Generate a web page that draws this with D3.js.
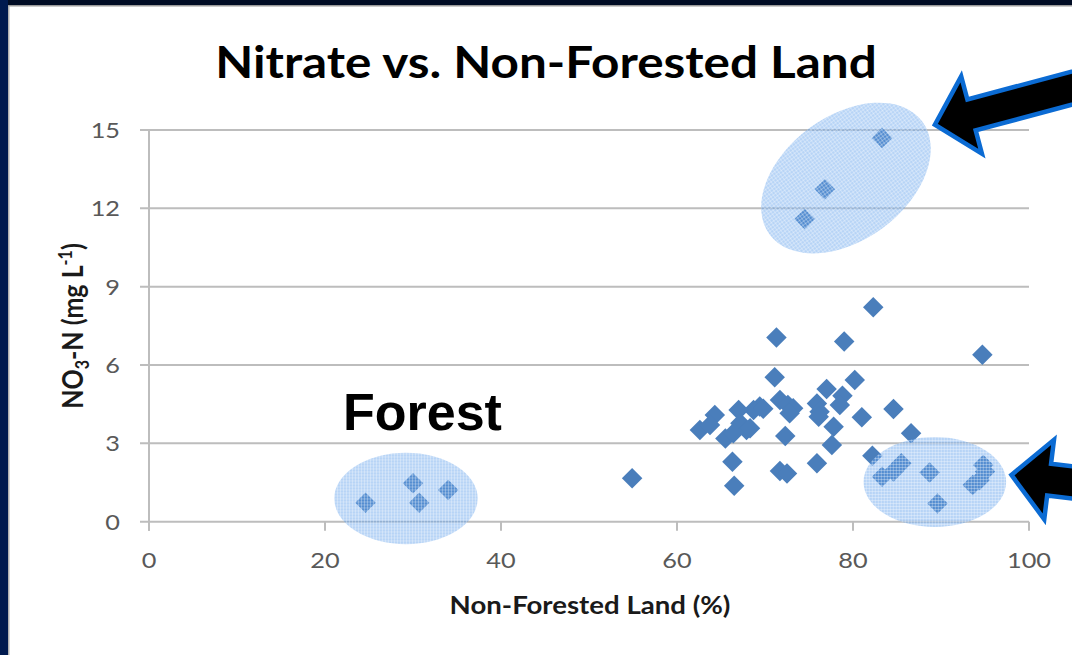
<!DOCTYPE html>
<html><head><meta charset="utf-8">
<script src="https://cdn.jsdelivr.net/npm/d3@7"></script>
<style>html,body{margin:0;padding:0;background:#fff;overflow:hidden} svg{display:block}</style>
</head><body><svg id="c" width="1072" height="655"></svg>
<script>
// ---------- data ----------
const chartTitle = "Nitrate vs. Non-Forested Land";
const xAxisTitle = "Non-Forested Land (%)";
const xTicks = [0, 20, 40, 60, 80, 100];
const yTicks = [0, 3, 6, 9, 12, 15];
const nonForested = [24.6, 30.0, 30.7, 34.0, 54.9, 83.3, 76.8, 74.5, 82.3, 71.3,
  79.0, 94.7, 71.1, 80.2, 77.0, 78.8, 71.7, 72.6, 73.2, 72.8,
  69.4, 68.7, 67.0, 64.3, 62.6, 63.75, 65.5, 67.2, 67.9, 66.4,
  75.9, 76.2, 76.1, 77.8, 78.5, 81.0, 84.6, 72.3, 77.6, 86.6,
  66.3, 66.5, 71.7, 72.5, 75.9, 82.2, 83.3, 84.6, 85.5, 88.7,
  89.6, 93.6, 94.4, 94.8, 95.0, 68.3, 69.8];
const nitrate = [0.73, 1.47, 0.73, 1.21, 1.66, 14.69, 12.73, 11.59, 8.21, 7.05,
  6.90, 6.39, 5.53, 5.43, 5.08, 4.82, 4.66, 4.47, 4.34, 4.15,
  4.41, 4.28, 4.28, 4.09, 3.51, 3.70, 3.19, 3.77, 3.51, 3.39,
  4.53, 4.21, 4.02, 3.64, 4.47, 4.00, 4.32, 3.28, 2.94, 3.39,
  2.30, 1.38, 1.94, 1.85, 2.24, 2.53, 1.72, 1.92, 2.24, 1.88,
  0.70, 1.41, 1.60, 2.17, 1.92, 3.58, 4.33];
// highlight ellipses (centre in data units)
const ellipseCx = [29.2, 79.2, 89.3];
const ellipseCy = [0.89, 13.16, 1.52];
const forestLabel = "Forest";

// ---------- layout ----------
const W = 1072, H = 655;
const SX = 1.15; // horizontal stretch of the original slide picture
const svg = d3.select("#c");
const x = d3.scaleLinear().domain([0, 100]).range([149, 1029]);
const y = d3.scaleLinear().domain([0, 15]).range([521.7, 130]);

// frame
svg.append("rect").attr("x", 0).attr("y", 0).attr("width", W).attr("height", H).attr("fill", "#fff");
svg.append("rect").attr("x", 0).attr("y", 0).attr("width", W).attr("height", 5).attr("fill", "#000c24");
svg.append("rect").attr("x", 0).attr("y", 5).attr("width", W).attr("height", 1.5).attr("fill", "#9a9a9a");
svg.append("rect").attr("x", 0).attr("y", 0).attr("width", 8).attr("height", H).attr("fill", "#001a4f");
svg.append("rect").attr("x", 8).attr("y", 6).attr("width", 1.5).attr("height", H).attr("fill", "#b0b0b0");

// pattern for highlight ellipses
const defs = svg.append("defs");
const pat = defs.append("pattern").attr("id", "hatch").attr("patternUnits", "userSpaceOnUse")
  .attr("width", 3).attr("height", 3);
pat.append("rect").attr("width", 3).attr("height", 3).attr("fill", "rgba(95,160,235,0.45)");
pat.append("rect").attr("width", 3).attr("height", 1).attr("fill", "rgba(255,255,255,0.3)");
pat.append("rect").attr("width", 1).attr("height", 3).attr("fill", "rgba(255,255,255,0.3)");

// gridlines
const g = svg.append("g");
g.selectAll("line.grid").data(yTicks).join("line")
  .attr("x1", 140).attr("x2", x(100))
  .attr("y1", d => y(d)).attr("y2", d => y(d))
  .attr("stroke", "#bdbdbd").attr("stroke-width", 2);
g.append("line").attr("x1", x(0)).attr("x2", x(0)).attr("y1", y(15)).attr("y2", y(0) + 9)
  .attr("stroke", "#bdbdbd").attr("stroke-width", 2);
g.selectAll("line.xt").data(xTicks).join("line")
  .attr("x1", d => x(d)).attr("x2", d => x(d)).attr("y1", y(0)).attr("y2", y(0) + 9)
  .attr("stroke", "#bdbdbd").attr("stroke-width", 2);

// tick labels
g.selectAll("text.yl").data(yTicks).join("text")
  .attr("transform", d => `translate(120,${y(d)}) scale(${SX},1)`).attr("dy", "0.36em")
  .attr("text-anchor", "end").attr("font-family", "Lato, sans-serif")
  .attr("font-size", 22).attr("fill", "#595959").text(d => d);
g.selectAll("text.xl").data(xTicks).join("text")
  .attr("transform", d => `translate(${x(d)},568) scale(${SX},1)`)
  .attr("text-anchor", "middle").attr("font-family", "Lato, sans-serif")
  .attr("font-size", 22).attr("fill", "#595959").text(d => d);

// points (square rotated = Excel diamond)
const sym = d3.symbol().type(d3.symbolSquare).size(210);
svg.append("g").selectAll("path").data(nonForested.map((v, i) => [v, nitrate[i]])).join("path")
  .attr("d", sym)
  .attr("transform", d => `translate(${x(d[0])},${y(d[1])}) rotate(45)`)
  .attr("fill", "#4a7ebb");

// ellipses
const ellG = svg.append("g");
const ellRx = [x(8.15) - x(0), 95, x(8.1) - x(0)];
const ellRy = [y(0) - y(1.75), 62, y(0) - y(1.72)];
const ellRot = [0, -36.5, 0];
ellipseCx.forEach((cx, i) => {
  ellG.append("ellipse")
    .attr("transform", `translate(${x(cx)},${y(ellipseCy[i])}) rotate(${ellRot[i]})`)
    .attr("rx", ellRx[i]).attr("ry", ellRy[i])
    .attr("fill", "url(#hatch)");
});

// arrows (tip in data units)
const arrowTipX = [89.3, 98.0];
const arrowTipY = [15.2, 1.79];
const arrowAngle = [-15, 7];
function arrowPath() {
  const hl = 38, hw = 40, sw = 16, len = 400;
  return `M0,0 L${hl},${-hw} L${hl},${-sw} L${len},${-sw} L${len},${sw} L${hl},${sw} L${hl},${hw} Z`;
}
arrowTipX.forEach((ax, i) => {
  svg.append("path")
    .attr("d", arrowPath())
    .attr("transform", `translate(${x(ax)},${y(arrowTipY[i])}) rotate(${arrowAngle[i]})`)
    .attr("fill", "#000").attr("stroke", "#0b6bd3").attr("stroke-width", 4.5)
    .attr("stroke-linejoin", "miter");
});

// titles
svg.append("text").attr("transform", `translate(546,78) scale(${SX},1)`).attr("text-anchor", "middle")
  .attr("font-family", "Lato, sans-serif").attr("font-weight", "bold").attr("font-size", 43)
  .attr("fill", "#000").text(chartTitle);
svg.append("text").attr("transform", `translate(590,614) scale(${SX},1)`).attr("text-anchor", "middle")
  .attr("font-family", "Lato, sans-serif").attr("font-weight", "bold").attr("font-size", 24)
  .attr("fill", "#1a1a1a").text(xAxisTitle);
const yt = svg.append("text").attr("transform", `translate(83,326) scale(${SX},1) rotate(-90)`).attr("text-anchor", "middle")
  .attr("font-family", "Lato, sans-serif").attr("font-weight", "bold").attr("font-size", 25)
  .attr("fill", "#1a1a1a");
yt.append("tspan").text("NO");
yt.append("tspan").attr("font-size", 16).attr("dy", 5).text("3");
yt.append("tspan").attr("dy", -5).text("-N (mg L");
yt.append("tspan").attr("font-size", 16).attr("dy", -10).text("-1");
yt.append("tspan").attr("dy", 10).text(")");

svg.append("text").attr("x", 343).attr("y", 430)
  .attr("font-family", "'Liberation Sans', Arial, sans-serif").attr("font-weight", "bold")
  .attr("font-size", 52).attr("fill", "#000").text(forestLabel);
</script></body></html>
